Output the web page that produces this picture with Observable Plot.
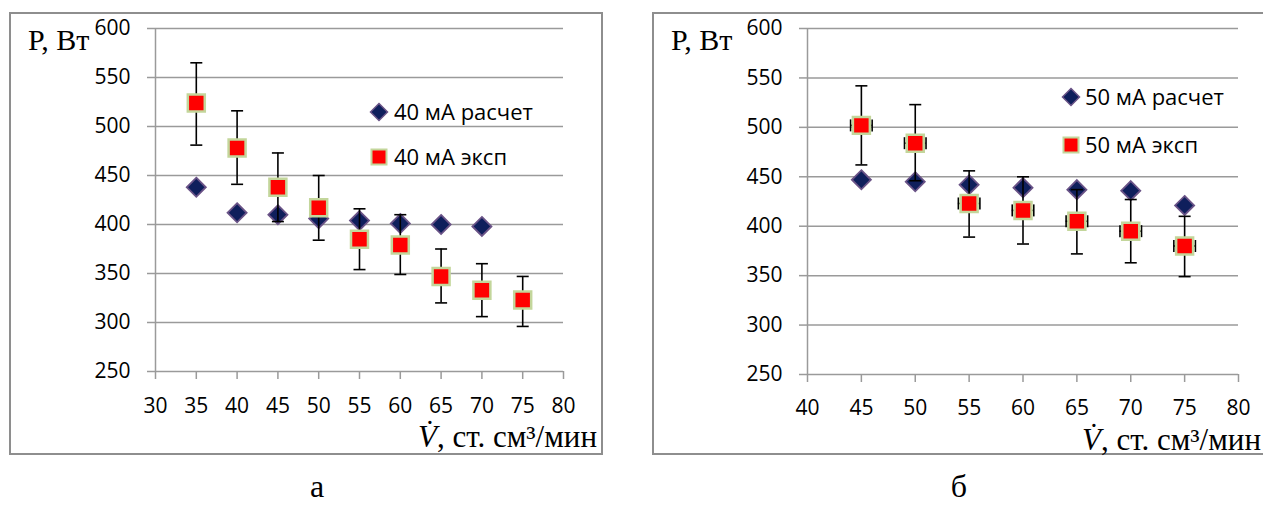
<!DOCTYPE html>
<html><head><meta charset="utf-8">
<script src="https://cdn.jsdelivr.net/npm/d3@7"></script>
<script src="https://cdn.jsdelivr.net/npm/@observablehq/plot@0.6"></script>
<style>
html,body{margin:0;padding:0;background:#fff;overflow:hidden;}
#wrap{position:relative;width:1263px;height:506px;overflow:hidden;}
.frame{position:absolute;box-sizing:border-box;border:2px solid #8e8e8e;}
.abs{position:absolute;white-space:nowrap;line-height:1;margin:0;}
.serif{font-family:"Liberation Serif","Times New Roman",serif;color:#000;}
.sans{font-family:"Open Sans",sans-serif;color:#000;}
.plotbox{position:absolute;top:0;}
</style></head>
<body><div id="wrap">
<div class="frame" style="left:9px;top:12px;width:594px;height:443px;"></div>
<div class="frame" style="left:652px;top:12px;width:700px;height:443px;"></div>
<div id="left" class="plotbox" style="left:0px;"></div>
<div id="right" class="plotbox" style="left:640px;"></div>
</div>
<script>
// ---- data: panel а (40 мА)
const calc40X = [35, 40, 45, 50, 55, 60, 65, 70];
const calc40 = [438, 412, 410, 406, 404, 401, 400, 398];
const exp40X = [35, 40, 45, 50, 55, 60, 65, 70, 75];
const exp40 = [524, 478, 438, 417, 385, 379, 347, 333, 323];
const exp40Lo = [481, 441, 403, 384, 354, 349, 320, 306, 296];
const exp40Hi = [565, 516, 473, 450, 416, 410, 375, 360, 347];
// ---- data: panel б (50 мА)
const calc50X = [45, 50, 55, 60, 65, 70, 75];
const calc50 = [447, 445, 442, 439, 437, 436, 421];
const exp50X = [45, 50, 55, 60, 65, 70, 75];
const exp50 = [502, 484, 423, 416, 405, 395, 380];
const exp50Lo = [462, 446, 389, 382, 372, 363, 349];
const exp50Hi = [542, 523, 456, 450, 437, 427, 410];
const exp50XErr = 1;
// ---- ticks / labels
const yTicks = [250, 300, 350, 400, 450, 500, 550, 600];
const xTicksA = [30, 35, 40, 45, 50, 55, 60, 65, 70, 75, 80];
const xTicksB = [40, 45, 50, 55, 60, 65, 70, 75, 80];
const yLabel = "P, Вт";
const xLabel = ", ст. см³/мин";
const legendA = ["40 мА расчет", "40 мА эксп"];
const legendB = ["50 мА расчет", "50 мА эксп"];
const captions = ["а", "б"];

const gridColor = "#9a9a9a";
const navy = "#0f1f5c", purple = "#6a5387", red = "#ff0000", olive = "#c3d69b";

const capH = {draw(ctx) { ctx.moveTo(-6, 0); ctx.lineTo(6, 0); }};
const capV = {draw(ctx) { ctx.moveTo(0, -6); ctx.lineTo(0, 6); }};

function panel({xDomain, xTicks, calcX, calc, expX, exp, lo, hi, xErr, width, ml, mr, mb, tickPadX}) {
  const calcRows = calcX.map((x, i) => ({x, y: calc[i]}));
  const expRows = expX.map((x, i) => ({x, y: exp[i], lo: lo[i], hi: hi[i]}));
  const marks = [
    Plot.gridY(yTicks, {stroke: gridColor, strokeOpacity: 1, strokeWidth: 1.5}),
    Plot.ruleX([xDomain[0]], {stroke: gridColor, strokeWidth: 1.5}),
    Plot.axisY(yTicks, {tickSize: 8, tickPadding: 17, stroke: gridColor, strokeWidth: 1.5, fontSize: 21, fontFamily: "Open Sans", label: null}),
    Plot.axisX(xTicks, {tickSize: 8, tickPadding: tickPadX, stroke: gridColor, strokeWidth: 1.5, fontSize: 21, fontFamily: "Open Sans", label: null}),
    Plot.dot(calcRows, {x: "x", y: "y", symbol: "diamond2", r: 8.6, fill: navy, stroke: purple, strokeWidth: 1.8}),
    Plot.ruleX(expRows, {x: "x", y1: "lo", y2: "hi", stroke: "black", strokeWidth: 1.6}),
    Plot.dot(expRows, {x: "x", y: "lo", symbol: capH, stroke: "black", fill: "none", strokeWidth: 1.6}),
    Plot.dot(expRows, {x: "x", y: "hi", symbol: capH, stroke: "black", fill: "none", strokeWidth: 1.6})
  ];
  if (xErr) {
    marks.push(
      Plot.ruleY(expRows, {y: "y", x1: d => d.x - xErr, x2: d => d.x + xErr, stroke: "black", strokeWidth: 1.6}),
      Plot.dot(expRows, {x: d => d.x - xErr, y: "y", symbol: capV, stroke: "black", fill: "none", strokeWidth: 1.6}),
      Plot.dot(expRows, {x: d => d.x + xErr, y: "y", symbol: capV, stroke: "black", fill: "none", strokeWidth: 1.6})
    );
  }
  marks.push(Plot.dot(expRows, {x: "x", y: "y", symbol: "square2", r: 10.8, fill: red, stroke: olive, strokeWidth: 2.5}));
  return Plot.plot({
    width, height: 460,
    marginLeft: ml, marginRight: mr, marginTop: 28, marginBottom: mb,
    style: {background: "transparent", color: "black", fontFamily: "Open Sans", overflow: "visible"},
    x: {domain: xDomain, axis: null},
    y: {domain: [250, 600], axis: null},
    marks
  });
}

document.getElementById("left").append(panel({
  xDomain: [30, 80], xTicks: xTicksA, calcX: calc40X, calc: calc40, expX: exp40X, exp: exp40,
  lo: exp40Lo, hi: exp40Hi, xErr: 0, width: 620, ml: 155, mr: 57, mb: 89, tickPadX: 19
}));
document.getElementById("right").append(panel({
  xDomain: [40, 80], xTicks: xTicksB, calcX: calc50X, calc: calc50, expX: exp50X, exp: exp50,
  lo: exp50Lo, hi: exp50Hi, xErr: exp50XErr, width: 623, ml: 167, mr: 25, mb: 86, tickPadX: 18
}));

// ---- text overlays
const wrap = document.getElementById("wrap");
function addText(html, cls, style) {
  const d = document.createElement("div");
  d.className = "abs " + cls;
  d.innerHTML = html;
  Object.assign(d.style, style);
  wrap.append(d);
  return d;
}
// y-axis titles (baseline ≈ 50)
addText(yLabel, "serif", {left: "28px", top: "25px", fontSize: "30px"});
addText(yLabel, "serif", {left: "671px", top: "25px", fontSize: "30px"});
// x-axis titles
const xl = '<i>V&#775;</i>' + xLabel;
addText(xl, "serif", {right: (1263 - 597) + "px", top: "421px", fontSize: "31px"});
addText(xl, "serif", {right: "2px", top: "424px", fontSize: "31px"});
// captions
addText(captions[0], "serif", {left: "317px", top: "469px", fontSize: "32px", lineHeight: "1.107", transform: "translateX(-50%)"});
addText(captions[1], "serif", {left: "959px", top: "469px", fontSize: "32px", lineHeight: "1.107", transform: "translateX(-50%)"});

// legends
function legend(items, cx, textX, yDiamond, ySquare) {
  const dsvg = `<svg width="20" height="20" style="position:absolute;left:${cx-10}px;top:${yDiamond-10}px"><polygon points="10,1.5 18.5,10 10,18.5 1.5,10" fill="${navy}" stroke="${purple}" stroke-width="1.5"/></svg>`;
  const ssvg = `<svg width="18" height="18" style="position:absolute;left:${cx-9}px;top:${ySquare-9}px"><rect x="1.5" y="1.5" width="15" height="15" fill="${red}" stroke="${olive}" stroke-width="2"/></svg>`;
  wrap.insertAdjacentHTML("beforeend", dsvg + ssvg);
  addText(items[0], "sans", {left: textX + "px", top: (yDiamond - 11.6) + "px", fontSize: "22px"});
  addText(items[1], "sans", {left: textX + "px", top: (ySquare - 11.6) + "px", fontSize: "22px"});
}
legend(legendA, 379, 394, 112, 157);
legend(legendB, 1071, 1085, 97, 145);
</script>
</body></html>
